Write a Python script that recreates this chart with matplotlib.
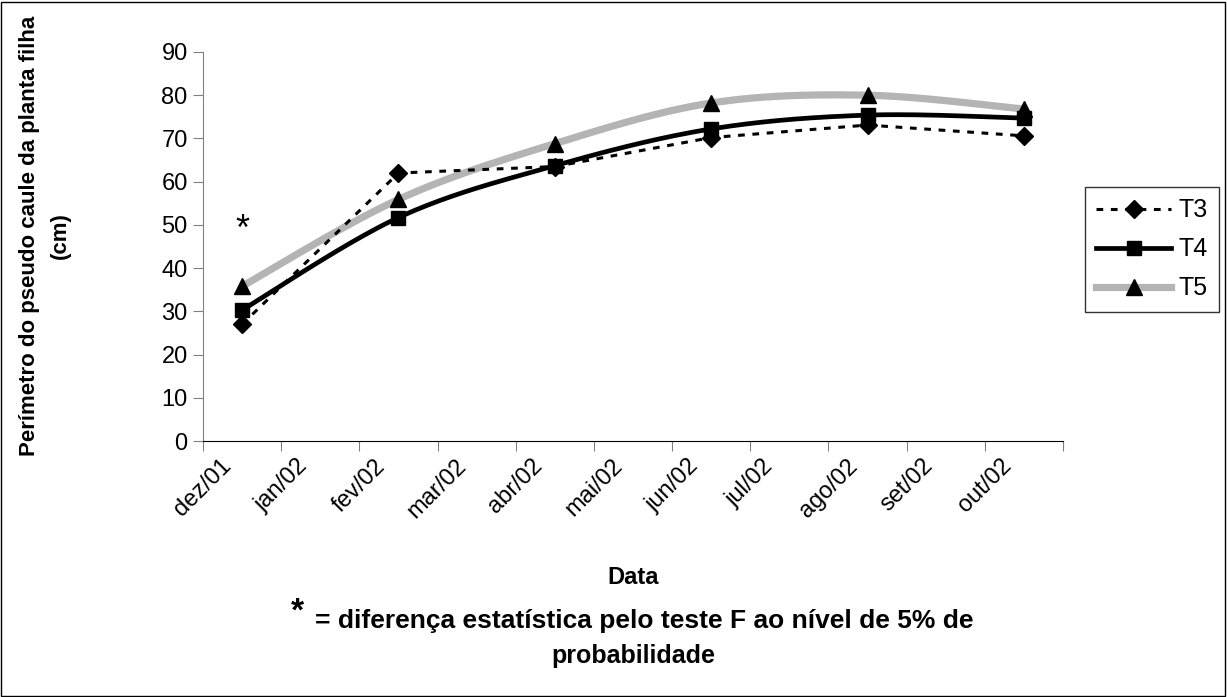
import numpy as np
import matplotlib
matplotlib.use("Agg")
import matplotlib.pyplot as plt
from matplotlib.lines import Line2D
from matplotlib.patches import Rectangle

plt.rcParams['font.family'] = ['Liberation Sans', 'DejaVu Sans']

months = ['dez/01', 'jan/02', 'fev/02', 'mar/02', 'abr/02', 'mai/02',
          'jun/02', 'jul/02', 'ago/02', 'set/02', 'out/02', '']
# sampling dates sit in the middle of every second month
x_pos = [0.5, 2.5, 4.5, 6.5, 8.5, 10.5]
t3 = [27.0, 62.0, 63.5, 70.2, 73.1, 70.6]
t4 = [30.3, 51.7, 63.7, 72.2, 75.4, 74.7]
t5 = [35.8, 55.9, 68.8, 78.2, 80.0, 76.8]


def excel_smooth(x, y, n=40):
    # Excel "smoothed line": Bezier through the points, Catmull-Rom style
    pts = np.column_stack([x, y])
    P = np.vstack([pts[0], pts, pts[-1]])
    out = []
    t = np.linspace(0, 1, n)[:, None]
    for i in range(1, len(P) - 2):
        p0, p1, p2, p3 = P[i - 1], P[i], P[i + 1], P[i + 2]
        c1 = p1 + (p2 - p0) / 6
        c2 = p2 - (p3 - p1) / 6
        seg = (1 - t)**3 * p1 + 3 * (1 - t)**2 * t * c1 + 3 * (1 - t) * t**2 * c2 + t**3 * p2
        out.append(seg if i == 1 else seg[1:])
    return np.vstack(out)


fig = plt.figure(figsize=(12.27, 6.97), dpi=100)
ax = fig.add_axes([203 / 1227, 1 - 441 / 697, 860 / 1227, 389 / 697])

styles = {
    'T3': dict(color='black', lw=2.2, ls=(0, (2.2, 2.5)), marker='D', ms=9, smooth=False),
    'T4': dict(color='black', lw=3.4, ls='-', marker='s', ms=10, smooth=True),
    'T5': dict(color='#b4b4b4', lw=5.2, ls='-', marker='^', ms=11, smooth=True),
}

for name, vals in [('T5', t5), ('T4', t4), ('T3', t3)]:
    st = styles[name]
    if st['smooth']:
        curve = excel_smooth(x_pos, vals)
    else:
        curve = np.column_stack([x_pos, vals])
    ax.plot(curve[:, 0], curve[:, 1], color=st['color'], lw=st['lw'],
            ls=st['ls'], solid_capstyle='butt', zorder=2)
    ax.plot(x_pos, vals, ls='none', marker=st['marker'], ms=st['ms'],
            color='black', zorder=3)

ax.set_xlim(0, 11)
ax.set_ylim(0, 90)
ax.set_xticks(range(12))
ax.set_xticklabels(months, rotation=45, ha='center', va='top', fontsize=17)
ax.set_yticks(range(0, 91, 10))
ax.tick_params(axis='y', labelsize=17, length=7, color='#808080', pad=4)
ax.tick_params(axis='x', length=7, color='#808080', pad=3)
for s in ['top', 'right']:
    ax.spines[s].set_visible(False)
ax.spines['left'].set_color('#808080')
ax.spines['bottom'].set_color('black')

ax.text(0.51, 48.8, '*', fontsize=26, ha='center', va='center')

handles = [Line2D([], [], color=styles[n]['color'], lw=styles[n]['lw'], ls=styles[n]['ls'],
                  marker=styles[n]['marker'], ms=styles[n]['ms'], mfc='black', mec='black')
           for n in ['T3', 'T4', 'T5']]
leg = fig.legend(handles, ['T3', 'T4', 'T5'], loc='upper left',
                 bbox_to_anchor=(1085 / 1227, 1 - 187 / 697), borderaxespad=0,
                 fontsize=18, frameon=True, fancybox=False, handlelength=3.0,
                 handletextpad=0.3, labelspacing=0.6, borderpad=0.45)
leg.get_frame().set_edgecolor('black')
leg.get_frame().set_linewidth(1.0)

fig.text(45 / 1227, 1 - 236 / 697, 'Perímetro do pseudo caule da planta filha\n(cm)',
         rotation=90, ha='center', va='center', fontsize=16, fontweight='bold',
         multialignment='center', linespacing=1.6)
fig.text(633 / 1227, 1 - 577 / 697, 'Data', ha='center', va='center',
         fontsize=17, fontweight='bold')
fig.text(644 / 1227, 1 - 621 / 697, '= diferença estatística pelo teste F ao nível de 5% de',
         ha='center', va='center', fontsize=19, fontweight='bold')
fig.text(297 / 1227, 1 - 612 / 697, '*', ha='center', va='center',
         fontsize=24, fontweight='bold')
fig.text(633 / 1227, 1 - 656 / 697, 'probabilidade', ha='center', va='center',
         fontsize=18, fontweight='bold')

fig.patches.append(Rectangle((1 / 1227, 1 / 697), 1224 / 1227, 694 / 697,
                             transform=fig.transFigure, fill=False,
                             edgecolor='black', lw=1.0))

fig.savefig('out.png', dpi=100)
